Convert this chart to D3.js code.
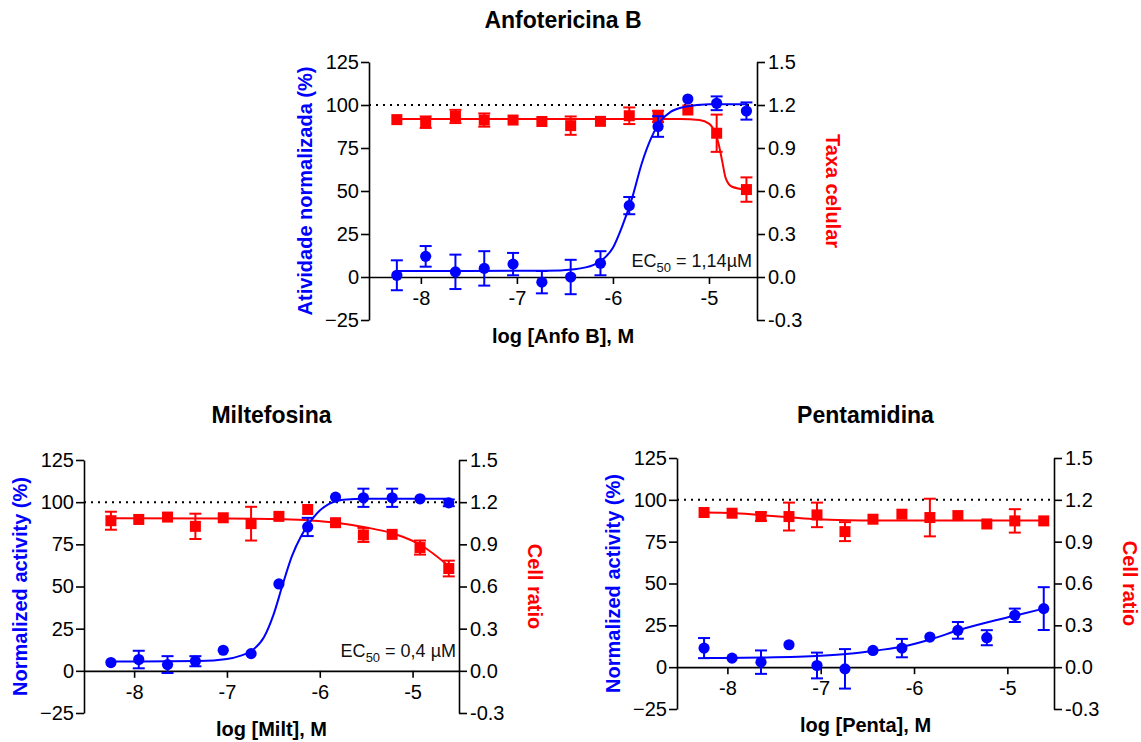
<!DOCTYPE html>
<html>
<head>
<meta charset="utf-8">
<script src="https://cdn.jsdelivr.net/npm/d3@7"></script>
<style>
	body { margin: 0; background: #fff; }
	svg { display: block; }
	text { font-family: "Liberation Sans", Arial, sans-serif; }
</style>
</head>
<body>
<div id="chart"></div>
<script>
// log dose of the 2-fold dilution series (same for the 3 drugs)
var logDose = [-8.25, -7.95, -7.64, -7.34, -7.04, -6.74, -6.44, -6.13, -5.83, -5.53, -5.22, -4.92, -4.61];

var yTicks = [-25, 0, 25, 50, 75, 100, 125];
var y2Ticks = [-0.3, 0, 0.3, 0.6, 0.9, 1.2, 1.5];
var xTicks = [-8, -7, -6, -5];

// Anfotericina B
var anfoActivity = [1, 12, 3, 5, 7.5, -3, 0, 8, 41.5, 87.5, 103.5, 101, 96.5];
var anfoActivityErr = [8.7, 6, 10, 10, 6.5, 6.5, 10, 7, 5, 6, 0, 4, 5];
var anfoRatio = [1.098, 1.08, 1.12, 1.095, 1.095, 1.085, 1.056, 1.086, 1.125, 1.12, 1.165, 1.003, 0.61];
var anfoRatioErr = [0, 0.04, 0.046, 0.046, 0, 0, 0.064, 0, 0.058, 0.04, 0, 0.13, 0.085];
var anfoActivityFit = [[-8.25, 3.5], [-6.7, 3.6], [-6.4, 4.5], [-6.2, 7], [-6.1, 10.5], [-6.0, 17], [-5.9, 30], [-5.8, 46], [-5.7, 66], [-5.6, 81], [-5.5, 91], [-5.4, 96], [-5.25, 99], [-5.0, 100.5], [-4.61, 100.5]];
var anfoRatioFit = [[-8.25, 1.102], [-5.3, 1.102], [-5.1, 1.095], [-5.0, 1.07], [-4.965, 1.044], [-4.9, 0.93], [-4.86, 0.8], [-4.826, 0.69], [-4.76, 0.63], [-4.61, 0.61]];

// Miltefosina
var miltActivity = [4.9, 6.7, 3.7, 5.7, 12.2, 10.2, 51.5, 85.3, 103, 102.6, 102.6, 102, 99.6];
var miltActivityErr = [0, 5.2, 5, 3, 0, 0, 0, 5.4, 0, 5.4, 5.4, 0, 2];
var miltRatio = [1.068, 1.077, 1.094, 1.028, 1.089, 1.047, 1.099, 1.148, 1.054, 0.967, 0.971, 0.877, 0.728];
var miltRatioErr = [0.064, 0, 0, 0.09, 0, 0.12, 0, 0, 0, 0.05, 0, 0.05, 0.056];
var miltActivityFit = [[-8.25, 5.5], [-7.3, 5.8], [-7.0, 7], [-6.85, 9], [-6.73, 12], [-6.6, 20], [-6.5, 33], [-6.4, 51], [-6.3, 68], [-6.2, 80], [-6.12, 87], [-6.0, 95], [-5.9, 99], [-5.75, 101.5], [-5.5, 102], [-4.61, 102]];
var miltRatioFit = [[-8.25, 1.085], [-7.0, 1.083], [-6.4, 1.078], [-6.1, 1.07], [-5.8, 1.052], [-5.5, 1.02], [-5.2, 0.975], [-4.9, 0.89], [-4.61, 0.745]];

// Pentamidina
var pentaActivity = [11.4, 5.4, 3, 13.4, 1, -1, 10, 11.4, 18, 22, 17.6, 31, 35];
var pentaActivityErr = [6, 0, 7, 0, 7.7, 11.8, 0, 5.5, 0, 5, 4.5, 4, 12.8];
var pentaRatio = [1.109, 1.104, 1.08, 1.08, 1.092, 0.972, 1.061, 1.097, 1.073, 1.087, 1.027, 1.049, 1.049];
var pentaRatioErr = [0, 0, 0.03, 0.1, 0.088, 0.068, 0, 0, 0.135, 0, 0, 0.084, 0];
var pentaActivityFit = [[-8.25, 5.5], [-7.6, 5.8], [-7.0, 6.8], [-6.7, 8], [-6.4, 10], [-6.1, 12.5], [-5.8, 17], [-5.5, 22.5], [-5.2, 27], [-4.9, 31], [-4.61, 35]];
var pentaRatioFit = [[-8.25, 1.109], [-7.95, 1.106], [-7.64, 1.09], [-7.34, 1.075], [-7.04, 1.06], [-6.7, 1.053], [-6.4, 1.051], [-4.61, 1.051]];

var BLUE = "#0000ff";
var RED = "#ff0000";

var panels = [
	{
		title: "Anfotericina B", xTitle: "log [Anfo B], M",
		yTitle: "Atividade normalizada (%)", y2Title: "Taxa celular",
		ec50: "1,14\u00b5M",
		activity: anfoActivity, activityErr: anfoActivityErr, activityFit: anfoActivityFit,
		ratio: anfoRatio, ratioErr: anfoRatioErr, ratioFit: anfoRatioFit,
		box: {left: 369, right: 757, top: 62, bottom: 320, titleY: 28, ecRight: 5, ecUp: 10}
	},
	{
		title: "Miltefosina", xTitle: "log [Milt], M",
		yTitle: "Normalized activity (%)", y2Title: "Cell ratio",
		ec50: "0,4 \u00b5M",
		activity: miltActivity, activityErr: miltActivityErr, activityFit: miltActivityFit,
		ratio: miltRatio, ratioErr: miltRatioErr, ratioFit: miltRatioFit,
		box: {left: 84, right: 459, top: 460, bottom: 713, titleY: 423, ecRight: 3, ecUp: 14}
	},
	{
		title: "Pentamidina", xTitle: "log [Penta], M",
		yTitle: "Normalized activity (%)", y2Title: "Cell ratio",
		ec50: null,
		activity: pentaActivity, activityErr: pentaActivityErr, activityFit: pentaActivityFit,
		ratio: pentaRatio, ratioErr: pentaRatioErr, ratioFit: pentaRatioFit,
		box: {left: 677, right: 1054, top: 458, bottom: 709, titleY: 423}
	}
];

var svg = d3.select("#chart").append("svg")
	.attr("width", 1141)
	.attr("height", 742);

panels.forEach(function(p){
	drawPanel(svg, p);
});

function drawPanel(svg, p){
	var b = p.box;
	var cx = (b.left + b.right) / 2;
	var cy = (b.top + b.bottom) / 2;

	var x = d3.scaleLinear().domain([-8.54, -4.5]).range([b.left, b.right]);
	var y = d3.scaleLinear().domain([-25, 125]).range([b.bottom, b.top]);
	var y2 = d3.scaleLinear().domain([-0.3, 1.5]).range([b.bottom, b.top]);

	var g = svg.append("g");

	// title
	g.append("text")
		.attr("x", cx).attr("y", b.titleY)
		.attr("text-anchor", "middle")
		.style("font-size", "23px").style("font-weight", "bold")
		.text(p.title);

	// dotted 100% line
	g.append("line")
		.attr("x1", b.left).attr("x2", b.right)
		.attr("y1", y(100)).attr("y2", y(100))
		.attr("stroke", "#000").attr("stroke-width", 2)
		.attr("stroke-dasharray", "2 5");

	// axes
	var yAxis = d3.axisLeft(y).tickValues(yTicks).tickSize(8).tickSizeOuter(0).tickPadding(2);
	var y2Axis = d3.axisRight(y2).tickValues(y2Ticks).tickSize(8).tickSizeOuter(0).tickPadding(3)
		.tickFormat(function(d){ return d.toFixed(1); });
	var xAxis = d3.axisBottom(x).tickValues(xTicks).tickSize(7).tickSizeOuter(0).tickPadding(7)
		.tickFormat(function(d){ return String(d); });

	var axes = [
		g.append("g").attr("transform", "translate(" + b.left + ",0)").call(yAxis),
		g.append("g").attr("transform", "translate(" + b.right + ",0)").call(y2Axis),
		g.append("g").attr("transform", "translate(0," + y(0) + ")").call(xAxis)
	];
	axes.forEach(function(a){
		a.selectAll("path, line").attr("stroke", "#000").attr("stroke-width", 1.6);
		a.selectAll("text").attr("fill", "#000").style("font-size", "20px")
			.style("font-family", "'Liberation Sans', Arial, sans-serif");
	});

	// axis titles
	g.append("text")
		.attr("x", cx).attr("y", b.bottom + 23)
		.attr("text-anchor", "middle")
		.style("font-size", "20px").style("font-weight", "bold")
		.text(p.xTitle);

	g.append("text")
		.attr("transform", "translate(" + (b.left - 64) + "," + cy + ") rotate(-90)")
		.attr("text-anchor", "middle").attr("dy", "0.35em")
		.attr("fill", BLUE)
		.style("font-size", "20px").style("font-weight", "bold")
		.text(p.yTitle);

	g.append("text")
		.attr("transform", "translate(" + (b.right + 76) + "," + cy + ") rotate(90)")
		.attr("text-anchor", "middle").attr("dy", "0.35em")
		.attr("fill", RED)
		.style("font-size", "20px").style("font-weight", "bold")
		.text(p.y2Title);

	var line = d3.line()
		.x(function(d){ return x(d[0]); })
		.curve(d3.curveMonotoneX);

	// cell ratio (red squares)
	drawSeries(g, x, y2, p.ratio, p.ratioErr, p.ratioFit, RED, "square", line);
	// activity (blue circles)
	drawSeries(g, x, y, p.activity, p.activityErr, p.activityFit, BLUE, "circle", line);

	// EC50 label
	if (p.ec50){
		var t = g.append("text")
			.attr("x", b.right - b.ecRight).attr("y", y(0) - b.ecUp)
			.attr("text-anchor", "end")
			.attr("fill", "#111")
			.style("font-size", "18px");
		t.append("tspan").text("EC");
		t.append("tspan").attr("dy", 5).style("font-size", "13px").text("50");
		t.append("tspan").attr("dy", -5).text(" = " + p.ec50);
	}
}

function drawSeries(g, x, y, values, errs, fit, color, shape, line){
	var s = g.append("g");
	var pts = values.map(function(v, i){ return {x: logDose[i], v: v, e: errs[i]}; });

	s.append("path")
		.datum(fit)
		.attr("fill", "none")
		.attr("stroke", color)
		.attr("stroke-width", 2)
		.attr("d", line.y(function(d){ return y(d[1]); }));

	var eb = s.selectAll(".err")
		.data(pts.filter(function(d){ return d.e > 0; }))
		.enter().append("g")
		.attr("stroke", color)
		.attr("stroke-width", 2);
	eb.append("line")
		.attr("x1", function(d){ return x(d.x); }).attr("x2", function(d){ return x(d.x); })
		.attr("y1", function(d){ return y(d.v - d.e); }).attr("y2", function(d){ return y(d.v + d.e); });
	[-1, 1].forEach(function(sign){
		eb.append("line")
			.attr("x1", function(d){ return x(d.x) - 6; }).attr("x2", function(d){ return x(d.x) + 6; })
			.attr("y1", function(d){ return y(d.v + sign * d.e); })
			.attr("y2", function(d){ return y(d.v + sign * d.e); });
	});

	if (shape === "circle"){
		s.selectAll(".pt").data(pts).enter().append("circle")
			.attr("cx", function(d){ return x(d.x); })
			.attr("cy", function(d){ return y(d.v); })
			.attr("r", 5.6)
			.attr("fill", color);
	} else {
		s.selectAll(".pt").data(pts).enter().append("rect")
			.attr("x", function(d){ return x(d.x) - 5.5; })
			.attr("y", function(d){ return y(d.v) - 5.5; })
			.attr("width", 11).attr("height", 11)
			.attr("fill", color);
	}
}
</script>
</body>
</html>
